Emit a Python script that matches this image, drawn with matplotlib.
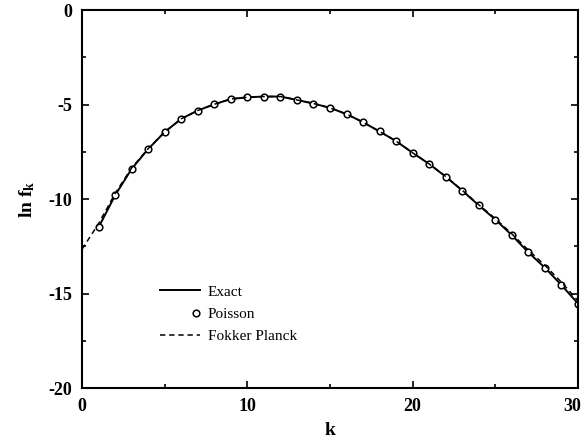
import matplotlib
matplotlib.use("Agg")
import matplotlib.pyplot as plt
from matplotlib.legend_handler import HandlerLine2D
from matplotlib.ticker import MultipleLocator
from matplotlib.transforms import ScaledTranslation

# ln f_k
k = list(range(1, 31))
exact = [-11.5, -9.8, -8.4, -7.35, -6.45, -5.75, -5.31, -4.98, -4.70, -4.61,
         -4.57, -4.57, -4.75, -4.94, -5.17, -5.50, -5.93, -6.42, -6.93, -7.55,
         -8.14, -8.81, -9.55, -10.33, -11.08, -11.91, -12.82, -13.63, -14.55, -15.53]
poisson = [-11.5, -9.8, -8.4, -7.35, -6.45, -5.75, -5.31, -4.98, -4.70, -4.61,
           -4.57, -4.57, -4.75, -4.94, -5.17, -5.50, -5.93, -6.42, -6.93, -7.55,
           -8.14, -8.81, -9.55, -10.33, -11.08, -11.91, -12.82, -13.63, -14.55, -15.53]
k_fp = list(range(0, 31))
fokker = [-12.65, -11.3, -9.7, -8.35, -7.33, -6.44, -5.75, -5.31, -4.98, -4.70, -4.61,
          -4.57, -4.57, -4.75, -4.94, -5.17, -5.50, -5.93, -6.42, -6.93, -7.55,
          -8.14, -8.80, -9.53, -10.30, -11.03, -11.84, -12.70, -13.50, -14.40, -15.38]

plt.rcParams['font.family'] = ['Liberation Serif', 'DejaVu Serif']
plt.rcParams['mathtext.fontset'] = 'stix'
plt.rcParams['axes.unicode_minus'] = False


class RightMarker(HandlerLine2D):
    # put the single marker at the right end of the legend handle
    def get_xdata(self, legend, xdescent, ydescent, width, height, fontsize):
        x = -xdescent + width - 3
        return [x - 1, x + 1], [x]


fig = plt.figure(figsize=(5.83, 4.43), dpi=100)
ax = fig.add_axes([0.1407, 0.124, 0.8507, 0.853])

ax.plot(k, exact, color='black', lw=1.4, label='Exact')
ax.plot(k, poisson, ls='none', marker='o', ms=4.8, mfc='white', mec='black',
        mew=1.1, label='Poisson')
ax.plot(k_fp, fokker, color='black', lw=1.1, ls=(0, (3.5, 2.5)), label='Fokker Planck')

ax.set_xlim(0, 30)
ax.set_ylim(-20, 0)
ax.xaxis.set_major_locator(MultipleLocator(10))
ax.xaxis.set_minor_locator(MultipleLocator(5))
ax.yaxis.set_major_locator(MultipleLocator(5))
ax.yaxis.set_minor_locator(MultipleLocator(2.5))
ax.tick_params(which='both', direction='in', top=True, right=True,
               labelsize=13, width=1.2)
ax.tick_params(which='major', length=5, pad=7)
ax.tick_params(which='minor', length=3)
fig.canvas.draw()
for lab in ax.get_xticklabels() + ax.get_yticklabels():
    lab.set_fontweight('bold')
    # keep the "30" label inside the figure
    if lab.get_text() == '30':
        lab.set_transform(lab.get_transform()
                          + ScaledTranslation(-6 / 100, 0, fig.dpi_scale_trans))
for sp in ax.spines.values():
    sp.set_linewidth(1.5)

ax.set_xlabel('k', fontsize=14, fontweight='bold', labelpad=5)
ax.set_ylabel(r'ln f$_{\mathregular{k}}$', fontsize=14, fontweight='bold', labelpad=8)

ax.legend(loc='lower left', bbox_to_anchor=(0.13, 0.083), frameon=False,
          fontsize=11, handlelength=2.6, handletextpad=0.5, labelspacing=0.55,
          handler_map={ax.lines[1]: RightMarker(numpoints=1)})

fig.savefig('out.png', dpi=100)
